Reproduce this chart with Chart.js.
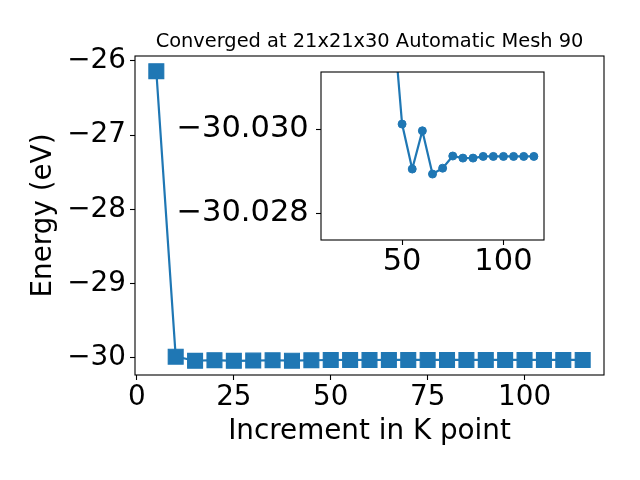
<!DOCTYPE html>
<html>
<head>
<meta charset="utf-8">
<script src="https://cdn.jsdelivr.net/npm/chart.js@4.4.1/dist/chart.umd.min.js"></script>
<style>
  html, body { margin: 0; padding: 0; background: #fff; }
  #wrap { position: relative; width: 640px; height: 480px; }
  #wrap canvas { position: absolute; left: 0; top: 0; }
</style>
</head>
<body>
<div id="wrap">
  <canvas id="mainChart" width="640" height="480"></canvas>
  <canvas id="insetChart" width="640" height="480"></canvas>
</div>
<script>
// k point increments and total energies (eV)
const kPoints = [5, 10, 15, 20, 25, 30, 35, 40, 45, 50, 55, 60, 65, 70, 75, 80, 85, 90, 95, 100, 105, 110, 115];
const energies = [-26.14, -29.985, -30.040, -30.032, -30.041, -30.038, -30.0335, -30.039, -30.0330,
                  -30.03012, -30.02905, -30.02996, -30.02893, -30.02907, -30.02936, -30.02931, -30.02931,
                  -30.02935, -30.02935, -30.02935, -30.02935, -30.02935, -30.02935];

// inset starts at the third point
const insetStart = 2;

const mainXTicks = [0, 25, 50, 75, 100];
const mainYTicks = [-30, -29, -28, -27, -26];
const insetXTicks = [50, 100];
const insetYTicks = [-30.030, -30.028];

const chartTitle = "Converged at 21x21x30 Automatic Mesh 90";
const xLabel = "Increment in K point";
const yLabel = "Energy (eV)";

const blue = "#1f77b4";
const font = "DejaVu Sans";

function fmt(v, d) {
    return (v < 0 ? "\u2212" : "") + Math.abs(v).toFixed(d);
}

function toPoints(xs, ys) {
    return xs.map((x, i) => ({ x: x, y: ys[i] }));
}

function setTicks(list) {
    return scale => { scale.ticks = list.map(v => ({ value: v })); };
}

// white face + black frame round the plot area
const framePlugin = {
    id: "frame",
    beforeDraw(chart) {
        const { ctx, chartArea: a } = chart;
        ctx.save();
        ctx.fillStyle = "#fff";
        ctx.fillRect(a.left, a.top, a.right - a.left, a.bottom - a.top);
        ctx.restore();
    },
    afterDraw(chart) {
        const { ctx, chartArea: a } = chart;
        ctx.save();
        ctx.strokeStyle = "#000";
        ctx.lineWidth = 1.1;
        ctx.strokeRect(a.left, a.top, a.right - a.left, a.bottom - a.top);
        ctx.restore();
    }
};

const tickGrid = {
    display: true,
    drawOnChartArea: false,
    drawTicks: true,
    tickLength: 5,
    tickWidth: 1.1,
    tickColor: "#000"
};

// Main chart
new Chart(document.getElementById("mainChart"), {
    type: "line",
    data: {
        datasets: [{
            data: toPoints(kPoints, energies),
            borderColor: blue,
            backgroundColor: blue,
            borderWidth: 2.2,
            tension: 0,
            pointStyle: "rect",
            pointRadius: 10.5,
            pointBorderWidth: 1.2,
            pointBackgroundColor: blue,
            pointBorderColor: blue
        }]
    },
    options: {
        responsive: false,
        animation: false,
        events: [],
        layout: { padding: { left: 0, right: 36, top: 0, bottom: 0 } },
        plugins: { legend: { display: false }, tooltip: { enabled: false } },
        scales: {
            x: {
                type: "linear",
                position: "bottom",
                min: -0.5,
                max: 120.5,
                afterBuildTicks: setTicks(mainXTicks),
                afterFit: s => { s.height = 105; },
                grid: tickGrid,
                border: { display: false },
                ticks: {
                    padding: 0.8,
                    maxRotation: 0,
                    color: "#000",
                    font: { family: font, size: 27.8 },
                    callback: v => fmt(v, 0)
                },
                title: {
                    display: true,
                    text: xLabel,
                    color: "#000",
                    font: { family: font, size: 27.8 },
                    padding: { top: 0, bottom: 32 }
                }
            },
            xTop: {
                type: "linear",
                position: "top",
                afterFit: s => { s.height = 56; },
                grid: { display: false },
                border: { display: false },
                ticks: { display: false },
                title: {
                    display: true,
                    text: chartTitle,
                    color: "#000",
                    font: { family: font, size: 19.4 },
                    padding: { top: 30, bottom: 0 }
                }
            },
            y: {
                type: "linear",
                position: "left",
                min: -30.232,
                max: -25.935,
                afterBuildTicks: setTicks(mainYTicks),
                afterFit: s => { s.width = 135; },
                grid: tickGrid,
                border: { display: false },
                ticks: {
                    padding: 4.1,
                    color: "#000",
                    font: { family: font, size: 27.8 },
                    callback: v => fmt(v, 0)
                },
                title: {
                    display: true,
                    text: yLabel,
                    color: "#000",
                    font: { family: font, size: 27.8 },
                    padding: { top: 27, bottom: 0 }
                }
            }
        }
    },
    plugins: [framePlugin]
});

// Inset zoom on the converged part
new Chart(document.getElementById("insetChart"), {
    type: "line",
    data: {
        datasets: [{
            data: toPoints(kPoints.slice(insetStart), energies.slice(insetStart)),
            borderColor: blue,
            backgroundColor: blue,
            borderWidth: 2.2,
            tension: 0,
            clip: 0,
            pointStyle: "circle",
            pointRadius: 4,
            pointBorderWidth: 1,
            pointBackgroundColor: blue,
            pointBorderColor: blue
        }]
    },
    options: {
        responsive: false,
        animation: false,
        events: [],
        layout: { padding: { left: 0, right: 96, top: 72, bottom: 0 } },
        plugins: { legend: { display: false }, tooltip: { enabled: false } },
        scales: {
            x: {
                type: "linear",
                position: "bottom",
                min: 10,
                max: 120,
                afterBuildTicks: setTicks(insetXTicks),
                afterFit: s => { s.height = 240; },
                grid: tickGrid,
                border: { display: false },
                ticks: {
                    padding: 0,
                    maxRotation: 0,
                    color: "#000",
                    font: { family: font, size: 30.5, lineHeight: 1.13 },
                    callback: v => fmt(v, 0)
                }
            },
            y: {
                type: "linear",
                position: "left",
                reverse: true,
                min: -30.03136,
                max: -30.02736,
                afterBuildTicks: setTicks(insetYTicks),
                afterFit: s => { s.width = 321; },
                grid: tickGrid,
                border: { display: false },
                ticks: {
                    padding: 7.3,
                    color: "#000",
                    font: { family: font, size: 30.5 },
                    callback: v => fmt(v, 3)
                }
            }
        }
    },
    plugins: [framePlugin]
});
</script>
</body>
</html>
